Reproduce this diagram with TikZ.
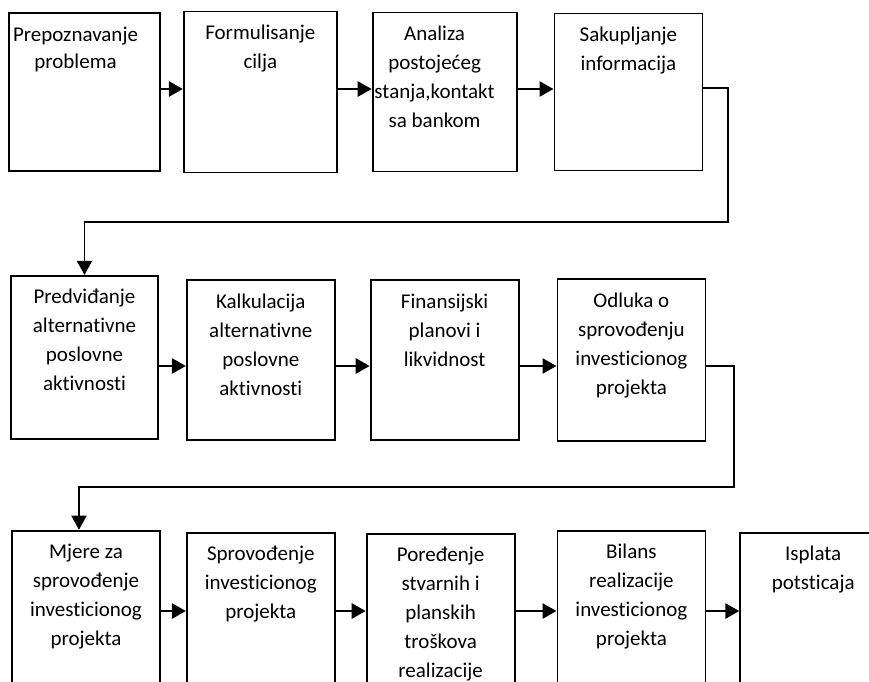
\documentclass[tikz,border=0pt]{standalone}
\usepackage{fontspec}
\setmainfont{Carlito}[Ligatures=NoCommon]
\usetikzlibrary{arrows.meta,positioning}

\begin{document}
\begin{tikzpicture}[
    x=1pt, y=1pt,
    box/.style={draw, rectangle, line width=1.8pt,
                minimum width=148pt, minimum height=160pt, inner sep=0pt},
    txt/.style={inner sep=0pt, align=center,
                font=\fontsize{21}{29}\selectfont},
    arr/.style={-{Triangle[length=14pt,width=15pt]}, line width=2.6pt},
    link/.style={-{Triangle[length=14pt,width=15pt]}, line width=1.7pt},
  ]
    \useasboundingbox (0,0) rectangle (869,-681);
    \clip (0,0) rectangle (869,-681);

    % ---- Row 1: boxes ----
    \node[box, minimum width=151pt, minimum height=158pt] (A) at (84.5,-92) {};
    \node[box, minimum width=153pt, minimum height=161pt, right=22pt of A] (B) {};
    \node[box, minimum width=144pt, minimum height=159pt, right=34pt of B] (C) {};
    \node[box, minimum height=157pt, right=36pt of C] (D) {};

    % ---- Row 2: boxes ----
    \node[box, minimum width=147pt, minimum height=163pt, below=103pt of A] (E) {};
    \node[box, right=27pt of E, yshift=-3pt] (F) {};
    \node[box, right=34pt of F] (G) {};
    \node[box, minimum height=162pt, right=37pt of G] (H) {};

    % ---- Row 3: boxes (cut by the page) ----
    \node[box, below=90pt of E, xshift=1.5pt] (I) {};
    \node[box, right=25pt of I, yshift=-2pt] (J) {};
    \node[box, right=30pt of J, yshift=-1pt] (K) {};
    \node[box, right=41pt of K, yshift=3pt] (L) {};
    \node[box, minimum width=146pt, right=33pt of L, yshift=-2pt] (M) {};

    % ---- Texts ----
    \node[txt, below=15pt of A.north, xshift=-9pt, font=\fontsize{21}{27}\selectfont] (At) {Prepoznavanje\\problema};
    \node[txt, below=14pt of B.north] (Bt) {Formulisanje\\cilja};
    \node[txt, below=14pt of C.north, xshift=-10pt] (Ct) {Analiza\\postojećeg\\stanja,kontakt\\sa bankom};
    \node[txt, below=14pt of D.north] (Dt) {Sakupljanje\\informacija};
    \node[txt, below=14pt of E.north] (Et) {Predviđanje\\alternativne\\poslovne\\aktivnosti};
    \node[txt, below=14pt of F.north] (Ft) {Kalkulacija\\alternativne\\poslovne\\aktivnosti};
    \node[txt, below=14pt of G.north] (Gt) {Finansijski\\planovi i\\likvidnost};
    \node[txt, below=14pt of H.north] (Ht) {Odluka o\\sprovođenju\\investicionog\\projekta};
    \node[txt, below=14pt of I.north] (It) {Mjere za\\sprovođenje\\investicionog\\projekta};
    \node[txt, below=14pt of J.north] (Jt) {Sprovođenje\\investicionog\\projekta};
    \node[txt, below=14pt of K.north] (Kt) {Poređenje\\stvarnih i\\planskih\\troškova\\realizacije};
    \node[txt, below=14pt of L.north] (Lt) {Bilans\\realizacije\\investicionog\\projekta};
    \node[txt, below=14pt of M.north] (Mt) {Isplata\\potsticaja};

    % ---- Arrows inside rows ----
    \coordinate (r1) at (0,-89);
    \coordinate (r2) at (0,-366);
    \coordinate (r3) at (0,-611);
    \draw[arr] (A.east |- r1) -- (B.west |- r1);
    \draw[arr] (B.east |- r1) -- (C.west |- r1);
    \draw[arr] (C.east |- r1) -- (D.west |- r1);
    \draw[arr] (E.east |- r2) -- (F.west |- r2);
    \draw[arr] (F.east |- r2) -- (G.west |- r2);
    \draw[arr] (G.east |- r2) -- (H.west |- r2);
    \draw[arr] (I.east |- r3) -- (J.west |- r3);
    \draw[arr] (J.east |- r3) -- (K.west |- r3);
    \draw[arr] (K.east |- r3) -- (L.west |- r3);
    \draw[arr] (L.east |- r3) -- (M.west |- r3);

    % ---- Connectors between rows ----
    \coordinate (t1) at (728,-222);
    \coordinate (t2) at (734,-487);
    \draw[link] ([yshift=4pt]D.east) -| (t1) -| (E.north);
    \draw[link] (H.east |- r2) -| (t2) -| ([xshift=-7pt]I.north);
\end{tikzpicture}
\end{document}
